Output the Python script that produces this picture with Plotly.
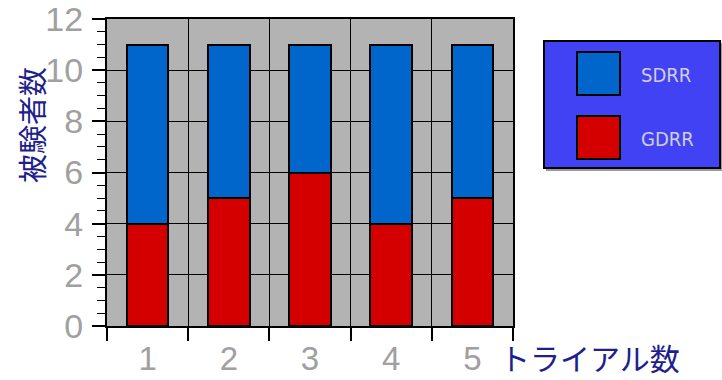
import plotly.graph_objects as go

# Trial numbers and subject counts per group
trials = ["1", "2", "3", "4", "5"]
gdrr = [4, 5, 6, 4, 5]
sdrr = [7, 6, 5, 7, 6]
series_names = ["SDRR", "GDRR"]
series_colors = {"SDRR": "#0066cc", "GDRR": "#d40000"}

y_title = "被験者数"
x_title = "トライアル数"

fig = go.Figure()
fig.add_trace(go.Bar(
    x=trials, y=gdrr, name="GDRR", width=0.51,
    marker=dict(color=series_colors["GDRR"], line=dict(color="black", width=2)),
))
fig.add_trace(go.Bar(
    x=trials, y=sdrr, name="SDRR", width=0.51,
    marker=dict(color=series_colors["SDRR"], line=dict(color="black", width=2)),
))

label_family = "Liberation Sans, Arial, sans-serif"
title_color = "#1e1e8c"

fig.update_layout(
    width=722, height=380,
    margin=dict(l=107, r=209, t=19, b=54),
    barmode="stack",
    showlegend=False,
    paper_bgcolor="white",
    plot_bgcolor="#b3b3b3",
    xaxis=dict(
        type="category",
        tickson="boundaries",
        ticks="outside", ticklen=13, tickwidth=1.5, tickcolor="black",
        showgrid=True, gridcolor="black", gridwidth=1,
        showline=True, linecolor="black", linewidth=2, mirror=True,
        tickfont=dict(family=label_family, size=33, color="#a0a0a0"),
        ticklabelstandoff=2,
        ticklabeloverflow="allow",
        automargin=False,
    ),
    yaxis=dict(
        range=[0, 12], dtick=2,
        ticks="outside", ticklen=13, tickwidth=1.5, tickcolor="black",
        minor=dict(dtick=0.5, ticks="outside", ticklen=8, tickcolor="black",
                   tickwidth=1, showgrid=False),
        showgrid=True, gridcolor="black", gridwidth=1,
        zeroline=False,
        showline=True, linecolor="black", linewidth=2, mirror=True,
        tickfont=dict(family=label_family, size=34, color="#a0a0a0"),
        ticklabelstandoff=2,
        ticklabeloverflow="allow",
        automargin=False,
    ),
)

plot_w = 722 - 107 - 209
plot_h = 380 - 19 - 54


def px(xp):
    return (xp - 107) / plot_w


def py(yp):
    return (380 - 54 - yp) / plot_h


# Axis titles
fig.add_annotation(
    text=y_title, textangle=-90, xref="paper", yref="paper",
    x=px(31), y=py(125), xanchor="center", yanchor="middle", showarrow=False,
    font=dict(family="Noto Sans CJK JP", size=29, color=title_color),
)
fig.add_annotation(
    text=x_title, xref="paper", yref="paper",
    x=px(498), y=py(357), xanchor="left", yanchor="middle", showarrow=False,
    font=dict(family="Noto Sans CJK JP", size=30, color=title_color),
)

# Legend panel with a soft drop shadow
fig.add_shape(type="rect", xref="paper", yref="paper",
              x0=px(546), x1=px(722), y0=py(171), y1=py(43),
              fillcolor="#9a9a9a", line=dict(width=0), layer="above")
fig.add_shape(type="rect", xref="paper", yref="paper",
              x0=px(544), x1=px(720), y0=py(168), y1=py(41),
              fillcolor="#4242f5", line=dict(color="black", width=2), layer="above")
for i, name in enumerate(series_names):
    top = 52 + i * 64
    fig.add_shape(type="rect", xref="paper", yref="paper",
                  x0=px(577), x1=px(620), y0=py(top + 43), y1=py(top),
                  fillcolor=series_colors[name], line=dict(color="black", width=2),
                  layer="above")
    fig.add_annotation(
        text=name, xref="paper", yref="paper",
        x=px(639), y=py(top + 23), xanchor="left", yanchor="middle", showarrow=False,
        font=dict(family="Liberation Sans Narrow, DejaVu Sans Condensed, Liberation Sans",
                  size=20, color="#cfcfd8"),
    )

fig.write_html("out.html")
